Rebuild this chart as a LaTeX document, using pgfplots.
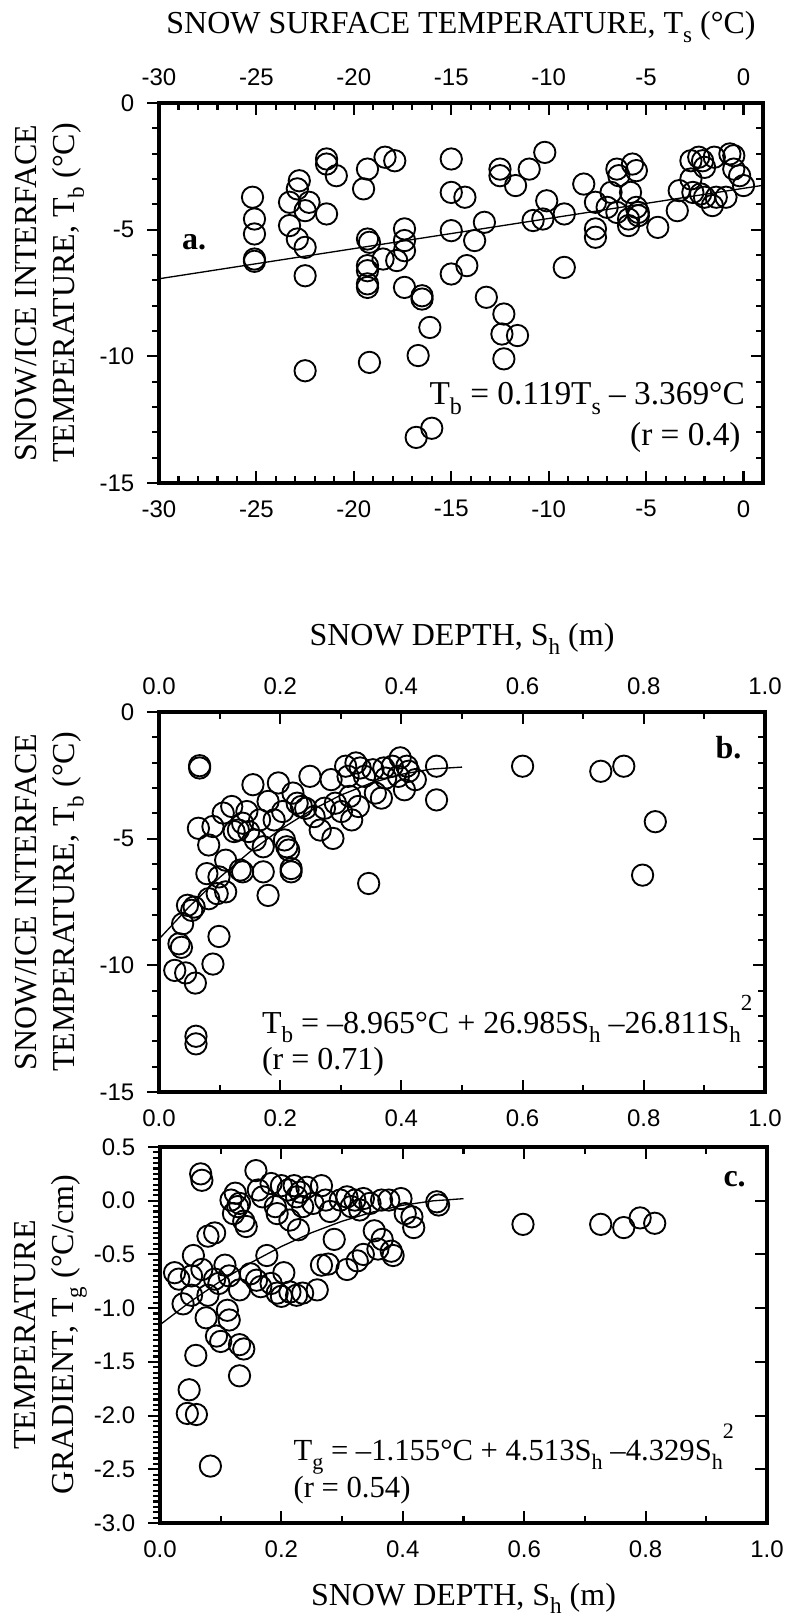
\documentclass[border=0pt]{standalone}
\usepackage{pgfplots}
\pgfplotsset{compat=1.18}
\usepackage{pgfplotstable}
\usepackage{graphicx}
\usepackage{fontspec}
\setmainfont{Liberation Serif}
\newfontfamily\tickfont{Liberation Sans}

\newcommand{\sub}[1]{\raisebox{-0.28em}{\scalebox{0.72}{#1}}}
\newcommand{\sups}[1]{\raisebox{0.72em}{\scalebox{0.72}{#1}}}

\pgfplotstableread{
x y
-25.2 -3.72
-25.1 -4.58
-25.1 -5.17
-25.1 -6.16
-25.1 -6.25
-22.8 -3.07
-22.9 -3.39
-23.3 -3.92
-23.3 -4.84
-22.9 -5.37
-22.5 -5.70
-22.5 -6.82
-22.5 -10.57
-22.3 -3.92
-22.5 -4.25
-21.4 -2.21
-21.4 -2.41
-20.9 -2.87
-21.4 -4.38
-19.3 -2.61
-19.5 -3.39
-19.3 -5.37
-19.2 -5.50
-19.3 -6.42
-19.3 -6.62
-19.3 -7.14
-19.3 -7.28
-19.2 -10.24
-18.4 -2.14
-17.9 -2.28
-18.5 -6.16
-17.8 -6.22
-17.4 -4.97
-17.4 -5.43
-17.4 -5.83
-17.4 -7.28
-16.5 -7.61
-16.5 -7.74
-16.1 -8.86
-16.7 -9.97
-16.8 -13.20
-16.0 -12.84
-15.0 -2.21
-15.0 -3.53
-14.3 -3.72
-15.0 -5.04
-15.0 -6.75
-14.2 -6.42
-13.8 -5.43
-13.3 -4.71
-13.2 -7.67
-12.5 -2.61
-12.5 -2.87
-12.3 -8.33
-12.4 -9.12
-11.6 -9.18
-12.3 -10.10
-11.7 -3.26
-11.0 -2.61
-10.2 -1.95
-10.1 -3.86
-10.8 -4.64
-10.3 -4.58
-9.2 -4.38
-9.2 -6.49
-8.2 -3.20
-7.6 -3.92
-7.6 -4.97
-7.6 -5.30
-7.0 -4.12
-6.8 -3.53
-6.5 -2.61
-6.4 -2.87
-6.5 -4.32
-5.7 -2.41
-5.5 -2.67
-5.8 -3.53
-5.9 -4.58
-5.9 -4.84
-5.5 -4.12
-5.4 -4.32
-5.4 -4.45
-4.4 -4.91
-3.4 -4.25
-3.3 -3.46
-2.7 -2.28
-2.3 -2.14
-2.1 -2.28
-2.0 -2.54
-2.7 -3.00
-2.6 -3.53
-2.2 -3.59
-2.0 -3.72
-1.6 -4.05
-1.5 -2.14
-0.7 -2.01
-0.5 -2.08
-0.5 -2.61
-0.2 -2.87
0.0 -3.26
-0.9 -3.72
-1.4 -3.72
}\dataA

\pgfplotstableread{
x y
0.067 -2.12
0.067 -2.21
0.061 -12.8
0.061 -13.1
0.026 -10.2
0.044 -10.3
0.060 -10.7
0.089 -9.95
0.033 -9.15
0.037 -9.29
0.039 -8.36
0.099 -8.86
0.047 -7.63
0.058 -7.70
0.054 -7.83
0.082 -7.37
0.096 -7.17
0.110 -7.10
0.079 -6.38
0.099 -6.51
0.134 -6.24
0.138 -6.31
0.180 -7.24
0.172 -6.31
0.218 -6.31
0.218 -6.18
0.346 -6.77
0.065 -4.59
0.082 -5.25
0.089 -4.52
0.110 -5.85
0.106 -3.99
0.120 -3.73
0.124 -4.72
0.131 -4.66
0.138 -4.39
0.145 -3.93
0.148 -4.72
0.155 -2.87
0.159 -5.05
0.166 -4.26
0.172 -5.32
0.180 -3.53
0.190 -4.26
0.197 -2.80
0.207 -5.05
0.211 -5.32
0.214 -5.45
0.204 -3.93
0.221 -3.20
0.228 -3.60
0.235 -3.73
0.242 -3.80
0.249 -2.54
0.256 -4.13
0.266 -4.66
0.273 -3.80
0.284 -2.67
0.287 -4.99
0.291 -3.60
0.301 -3.93
0.308 -2.14
0.312 -2.54
0.315 -3.33
0.318 -4.26
0.325 -2.01
0.329 -3.73
0.332 -2.21
0.339 -2.54
0.353 -2.28
0.357 -3.20
0.367 -3.40
0.371 -2.21
0.374 -2.61
0.385 -2.14
0.395 -2.54
0.398 -1.81
0.409 -2.14
0.412 -2.34
0.423 -2.67
0.405 -3.07
0.458 -2.14
0.458 -3.47
0.600 -2.14
0.729 -2.34
0.767 -2.14
0.819 -4.33
0.798 -6.44
}\dataB

\pgfplotstableread{
x y
0.067 0.25
0.069 0.19
0.158 0.28
0.117 0.006
0.124 0.07
0.128 -0.055
0.138 -0.19
0.142 -0.24
0.121 -0.12
0.131 -0.025
0.162 0.10
0.169 0.036
0.183 0.16
0.190 -0.055
0.193 -0.12
0.200 0.14
0.211 0.10
0.214 -0.18
0.221 0.14
0.225 0.036
0.231 0.08
0.235 -0.055
0.228 -0.27
0.242 0.125
0.252 -0.025
0.266 0.14
0.273 0.006
0.280 -0.10
0.287 -0.36
0.297 0.006
0.308 0.036
0.315 -0.055
0.321 0.006
0.329 -0.086
0.335 0.02
0.346 -0.025
0.353 -0.28
0.365 0.006
0.366 -0.36
0.377 0.006
0.381 -0.47
0.384 -0.51
0.397 0.02
0.404 -0.12
0.415 -0.15
0.418 -0.25
0.456 -0.01
0.459 -0.04
0.090 -0.30
0.079 -0.33
0.055 -0.51
0.024 -0.67
0.031 -0.73
0.052 -0.70
0.069 -0.64
0.079 -0.88
0.090 -0.73
0.097 -0.77
0.107 -0.60
0.114 -0.70
0.038 -0.96
0.052 -0.88
0.076 -1.09
0.111 -1.02
0.114 -1.11
0.093 -1.26
0.100 -1.31
0.131 -1.34
0.138 -1.38
0.131 -1.63
0.059 -1.44
0.048 -1.76
0.045 -1.98
0.060 -1.99
0.083 -2.47
0.131 -0.83
0.149 -0.68
0.159 -0.74
0.166 -0.80
0.176 -0.51
0.183 -0.77
0.193 -0.86
0.200 -0.89
0.204 -0.67
0.214 -0.85
0.225 -0.88
0.235 -0.86
0.259 -0.83
0.266 -0.60
0.277 -0.59
0.308 -0.64
0.325 -0.56
0.335 -0.50
0.359 -0.45
0.598 -0.22
0.726 -0.22
0.764 -0.25
0.791 -0.16
0.815 -0.21
}\dataC

\pgfplotsset{
  panel/.style={
    scale only axis,
    line width=2.5pt,
    axis line style={line width=2.5pt},
    tick style={line width=1.6pt, black},
    major tick length=9pt,
    minor tick length=5pt,
    tick align=inside,
    tick label style={font=\tickfont\fontsize{18}{18}\selectfont},
    xticklabel shift=8.5pt,
    yticklabel shift=5pt,
    label style={font=\fontsize{24}{28.5}\selectfont},
    ylabel style={align=center, at={(axis description cs:-0.1805,0.5)}, anchor=center},
  },
  mainax/.style={panel, xtick pos=left, ytick pos=left, ytick align=outside},
  overax/.style={panel, axis x line*=top, axis y line*=right, axis line style={draw=none},
    yticklabels={}, tick align=inside},
  circ/.style={only marks, mark=o, mark size=8pt, mark options={line width=1.4pt, black}},
  fit/.style={no marks, line width=1pt, black},
}
\tikzset{
  eq/.style={font=\fontsize{25}{25}\selectfont},
  plab/.style={font=\bfseries\fontsize{24}{24}\selectfont},
  over/.style={line width=2.5pt},
}

\begin{document}
\begin{tikzpicture}
\path[use as bounding box] (0pt,0pt) rectangle (591pt,1212.75pt);

% ---------------- panel a ----------------
\begin{axis}[mainax, at={(119.25pt,850.5pt)}, anchor=south west, width=453pt, height=285pt,
  xmin=-30, xmax=1, ymin=-15, ymax=0,
  xtick={-30,-25,-20,-15,-10,-5,0}, xticklabels={-30,-25,-20,-15,-10,-5,0},
  minor x tick num=4,
  ytick={-15,-10,-5,0}, yticklabels={-15,-10,-5,0},
  minor y tick num=4,
  ylabel={SNOW/ICE INTERFACE\\TEMPERATURE, T\sub{b} (°C)}]
\addplot[circ] table {\dataA};
\addplot[fit] coordinates {(-30,-6.939) (1,-3.250)};
\draw[over] (axis description cs:0,1) -- ([xshift=-9pt]axis description cs:0,1);
\draw[over] (axis description cs:0,0) -- ([xshift=-9pt]axis description cs:0,0);
\node[plab] at (axis description cs:0.058,0.633) {a.};
\node[eq, anchor=east] at (axis description cs:0.98,0.222) {T\sub{b} = 0.119T\sub{s} – 3.369°C};
\node[eq, anchor=east] at (axis description cs:0.973,0.12) {(r = 0.4)};
\end{axis}
\begin{axis}[overax, at={(119.25pt,850.5pt)}, anchor=south west, width=453pt, height=285pt,
  xmin=-30, xmax=1, ymin=-15, ymax=0,
  xtick={-30,-25,-20,-15,-10,-5,0}, xticklabels={-30,-25,-20,-15,-10,-5,0},
  minor x tick num=4,
  ytick={-15,-10,-5,0}, minor y tick num=4,
  xlabel={SNOW SURFACE TEMPERATURE, T\sub{s} (°C)},
  xlabel style={at={(axis description cs:0.5,1)}, anchor=base, yshift=52pt}]
\addplot[draw=none] coordinates {(-30,-15)};
\end{axis}

% ---------------- panel b ----------------
\begin{axis}[mainax, at={(119.25pt,393.75pt)}, anchor=south west, width=454.5pt, height=285pt,
  xmin=0, xmax=1, ymin=-15, ymax=0,
  xtick={0,0.2,0.4,0.6,0.8,1}, xticklabels={0.0,0.2,0.4,0.6,0.8,1.0},
  minor x tick num=1,
  ytick={-15,-10,-5,0}, yticklabels={-15,-10,-5,0},
  minor y tick num=4,
  ylabel={SNOW/ICE INTERFACE\\TEMPERATURE, T\sub{b} (°C)}]
\addplot[circ] table {\dataB};
\addplot[fit] coordinates {(0,-8.965) (0.05,-7.683) (0.1,-6.534) (0.15,-5.520) (0.2,-4.640) (0.25,-3.895) (0.3,-3.282) (0.35,-2.804) (0.4,-2.461) (0.45,-2.251) (0.5,-2.175)};
\draw[over] (axis description cs:0,1) -- ([xshift=-9pt]axis description cs:0,1);
\draw[over] (axis description cs:0,0) -- ([xshift=-9pt]axis description cs:0,0);
\node[plab, anchor=east] at (axis description cs:0.971,0.906) {b.};
\node[eq, font=\fontsize{24}{24}\selectfont, anchor=west] at (axis description cs:0.16,0.192) {T\sub{b} = –8.965°C + 26.985S\sub{h} –26.811S\sub{h}\sups{2}};
\node[eq, font=\fontsize{24}{24}\selectfont, anchor=west] at (axis description cs:0.16,0.08) {(r = 0.71)};
\end{axis}
\begin{axis}[overax, at={(119.25pt,393.75pt)}, anchor=south west, width=454.5pt, height=285pt,
  xmin=0, xmax=1, ymin=-15, ymax=0,
  xtick={0,0.2,0.4,0.6,0.8,1}, xticklabels={0.0,0.2,0.4,0.6,0.8,1.0},
  minor x tick num=1,
  ytick={-15,-10,-5,0}, minor y tick num=4,
  xlabel={SNOW DEPTH, S\sub{h} (m)},
  xlabel style={at={(axis description cs:0.5,1)}, anchor=base, yshift=49.5pt}]
\addplot[draw=none] coordinates {(0,-15)};
\end{axis}

% ---------------- panel c ----------------
\begin{axis}[mainax, at={(120pt,70.5pt)}, anchor=south west, width=455.25pt, height=282pt,
  xmin=0, xmax=1, ymin=-3, ymax=0.5,
  xtick={0,0.2,0.4,0.6,0.8,1}, xticklabels={0.0,0.2,0.4,0.6,0.8,1.0},
  minor x tick num=1,
  ytick={-3,-2.5,-2,-1.5,-1,-0.5,0,0.5}, yticklabels={-3.0,-2.5,-2.0,-1.5,-1.0,-0.5,0.0,0.5},
  minor y tick num=9,
  ylabel={TEMPERATURE\\GRADIENT, T\sub{g} (°C/cm)},
  xlabel={SNOW DEPTH, S\sub{h} (m)},
  xlabel style={at={(axis description cs:0.5,0)}, anchor=base, yshift=-61.5pt}]
\addplot[circ] table {\dataC};
\addplot[fit] coordinates {(0,-1.155) (0.05,-0.940) (0.1,-0.747) (0.15,-0.576) (0.2,-0.426) (0.25,-0.297) (0.3,-0.191) (0.35,-0.106) (0.4,-0.042) (0.45,-0.001) (0.5,0.019)};
\draw[over] (axis description cs:0,1) -- ([xshift=-9pt]axis description cs:0,1);
\draw[over] (axis description cs:0,0) -- ([xshift=-9pt]axis description cs:0,0);
\node[plab, anchor=east] at (axis description cs:0.975,0.915) {c.};
\node[eq, font=\fontsize{23}{23}\selectfont, anchor=west] at (axis description cs:0.21,0.197) {T\sub{g} = –1.155°C + 4.513S\sub{h} –4.329S\sub{h}\sups{2}};
\node[eq, font=\fontsize{23}{23}\selectfont, anchor=west] at (axis description cs:0.21,0.088) {(r = 0.54)};
\end{axis}
\begin{axis}[overax, at={(120pt,70.5pt)}, anchor=south west, width=455.25pt, height=282pt,
  xmin=0, xmax=1, ymin=-3, ymax=0.5,
  xtick={0,0.2,0.4,0.6,0.8,1}, xticklabels={},
  minor x tick num=1,
  ytick={-3,-2.5,-2,-1.5,-1,-0.5,0,0.5}, minor y tick num=0]
\addplot[draw=none] coordinates {(0,-3)};
\end{axis}
\end{tikzpicture}
\end{document}
